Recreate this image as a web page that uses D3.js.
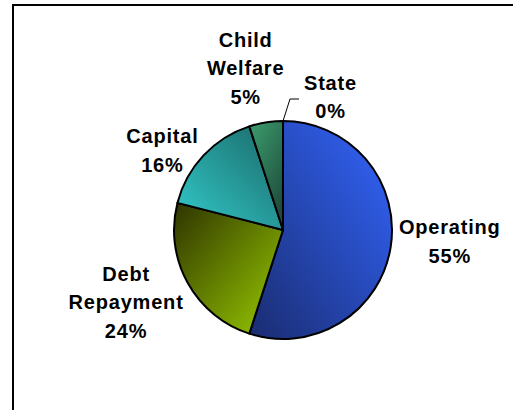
<!DOCTYPE html>
<html>
<head>
<meta charset="utf-8">
<script src="https://cdn.jsdelivr.net/npm/d3@7"></script>
<style>
  html, body { margin: 0; padding: 0; background: #fff; }
  svg { display: block; }
  .lbl { font-family: "Liberation Sans", Arial, sans-serif; font-weight: bold; font-size: 20px; letter-spacing: 0.8px; fill: #000; }
</style>
</head>
<body>
<div id="chart"></div>
<script>
// budget split
var categories = ["Operating", "Debt Repayment", "Capital", "Child Welfare", "State"];
var shares = [55, 24, 16, 5, 0];

// light end / dark end of each wedge's shading
var lightColors = ["#3366ff", "#99cc00", "#33cccc", "#3d9e6e", "#3366ff"];
var darkColors = ["#1a2c70", "#2e3300", "#1a6666", "#1e4d3d", "#1a2c70"];

var width = 513, height = 410;
var cx = 283, cy = 230, radius = 109;
var lineH = 28.5, capH = 14;

var svg = d3.select("#chart").append("svg")
  .attr("width", width)
  .attr("height", height);

// frame (runs off the right and bottom edge like the original)
svg.append("rect")
  .attr("x", 13).attr("y", 5)
  .attr("width", 600).attr("height", 500)
  .attr("fill", "none").attr("stroke", "#000").attr("stroke-width", 2);

var data = categories.map(function(c, i){ return {name: c, value: shares[i], i: i}; });

var pie = d3.pie().sort(null).value(function(d){ return d.value; });
var arcs = pie(data);

var arc = d3.arc().innerRadius(0).outerRadius(radius);

// gradient direction per wedge (objectBoundingBox), light -> dark
var dirs = [
  [1, 0, 0, 1],   // operating: top-right light, bottom-left dark
  [1, 1, 0, 0],   // debt: bottom-right light, top-left dark
  [0, 1, 1, 0],   // capital: bottom-left light, top-right dark
  [0, 0, 0.6, 1], // child welfare
  [1, 0, 0, 1]
];

var defs = svg.append("defs");
data.forEach(function(d, i){
  var g = defs.append("linearGradient")
    .attr("id", "grad" + i)
    .attr("x1", dirs[i][0]).attr("y1", dirs[i][1])
    .attr("x2", dirs[i][2]).attr("y2", dirs[i][3]);
  g.append("stop").attr("offset", "0%").attr("stop-color", lightColors[i]);
  g.append("stop").attr("offset", "100%").attr("stop-color", darkColors[i]);
});

var pieG = svg.append("g").attr("transform", "translate(" + cx + "," + cy + ")");

pieG.selectAll("path.slice")
  .data(arcs.filter(function(a){ return a.value > 0; }))
  .enter().append("path")
  .attr("class", "slice")
  .attr("d", arc)
  .attr("fill", function(a){ return "url(#grad" + a.data.i + ")"; })
  .attr("stroke", "#000")
  .attr("stroke-width", 2)
  .attr("stroke-linejoin", "round");

// labels: placed next to the wedge, then nudged the way excel spread them
var labelNudge = {
  "Operating": [1, -10],
  "Debt Repayment": [-4, -1],
  "Capital": [-9, 15],
  "Child Welfare": [-13, -11],
  "State": [0, -2]
};
var fmt = function(v){ return Math.round(v) + "%"; };

arcs.forEach(function(a){
  var lines = a.data.name.split(" ").concat([fmt(a.data.value)]);
  var mid = (a.startAngle + a.endAngle) / 2;
  var s = Math.sin(mid), c = Math.cos(mid);

  var t = svg.append("text").attr("class", "lbl").attr("text-anchor", "middle");
  lines.forEach(function(l, k){
    t.append("tspan").attr("x", 0).attr("y", k * lineH).text(l);
  });
  var w = t.node().getBBox().width;
  var h = (lines.length - 1) * lineH + capH;

  var lx, ly;
  if (a.value === 0) {
    // tiny wedge: leader line out of the top
    var p0 = [cx + radius * s, cy - radius * c];
    var p1 = [p0[0] + 7, p0[1] - 22];
    var p2 = [p1[0] + 9, p1[1]];
    svg.append("polyline")
      .attr("points", [p0, p1, p2].map(function(p){ return p.join(","); }).join(" "))
      .attr("fill", "none").attr("stroke", "#000").attr("stroke-width", 1);
    lx = p2[0] + 5 + w / 2;
    ly = p2[1];
  } else {
    var rr = radius + 8;
    var px = cx + rr * s, py = cy - rr * c;
    lx = px + s * w / 2;
    ly = py - c * h / 2;
  }
  var n = labelNudge[a.data.name] || [0, 0];
  lx += n[0]; ly += n[1];
  // ly is the vertical centre of the block
  t.attr("transform", "translate(" + lx + "," + (ly - h / 2 + capH) + ")");
});
</script>
</body>
</html>
